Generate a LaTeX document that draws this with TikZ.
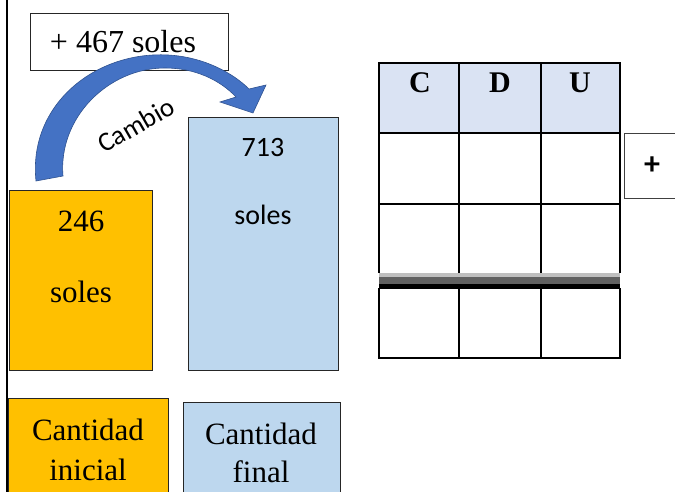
\documentclass[tikz,border=0pt]{standalone}
\usepackage{fontspec}
\setmainfont{Liberation Serif}
\newfontfamily\calibri{Carlito}
\usetikzlibrary{arrows.meta, positioning}
\definecolor{naranja}{HTML}{FFC000}
\definecolor{celeste}{HTML}{BDD7EE}
\definecolor{cabecera}{HTML}{DAE3F3}
\definecolor{flecha}{HTML}{4472C4}
\definecolor{flechaborde}{HTML}{2F528F}
\newcommand{\tam}[1]{\fontsize{#1}{#1}\selectfont}

\begin{document}
\begin{tikzpicture}[x=1pt,y=-1pt,
    caja/.style={draw=black!85,line width=0.8pt,anchor=north west,inner sep=0pt},
    serif/.style={font=\tam{31}},
    cal/.style={font=\calibri\tam{28}},
    linea/.style={line width=2pt}]

    \useasboundingbox (0,0) rectangle (675,492);
    \draw[line width=2.5pt] (7,0) -- (7,492);

    % cajas de la izquierda
    \node[caja, minimum width=198pt, minimum height=57pt] (cambio) at (30,13) {};
    \node[font=\tam{32}] (cambiotxt) at (123,42) {+ 467 soles};

    \node[caja, fill=naranja, minimum width=143pt, minimum height=180pt] (ini) at (9,190) {};
    \node[serif] (ininum) at (81,221) {246};
    \node[serif] (iniu)   at (81,292) {soles};

    \node[caja, fill=celeste, minimum width=150pt, minimum height=253pt] (fin) at (188,117) {};
    \node[cal] (finnum) at (263,148) {713};
    \node[cal] (finu)   at (263,215) {soles};

    \node[caja, fill=naranja, minimum width=160pt, minimum height=100pt] (etqini) at (8,398) {};
    \node[serif] (etqini1) at (88,430) {Cantidad};
    \node[serif] (etqini2) at (88,470) {inicial};

    \node[caja, fill=celeste, minimum width=157pt, minimum height=100pt] (etqfin) at (183,402) {};
    \node[serif] (etqfin1) at (261,434) {Cantidad};
    \node[serif] (etqfin2) at (261,472) {final};

    % flecha curva
    \filldraw[fill=flecha, draw=flechaborde, line width=0.6pt]
        (36,181) .. controls (28,105) and (95,51) .. (168,55)
        .. controls (205,57) and (234,74) .. (249,89)
        -- (266,85) -- (253,113) -- (220,102) -- (236,97)
        .. controls (220,80) and (195,68) .. (165,68)
        .. controls (108,68) and (58,118) .. (63,176) -- cycle;
    \node[font=\calibri\tam{27}, rotate=30] (cambiolbl) at (136,125) {Cambio};

    % tabla C D U
    \fill[cabecera] (379,63) rectangle (620,133);
    \foreach \x in {379,459,541,620}
    {
        \draw[linea] (\x,63) -- (\x,273);
        \draw[linea] (\x,288) -- (\x,358);
    }
    \foreach \y in {63,133,204,358}
        \draw[linea] (378,\y) -- (621,\y);
    \fill[black!25] (379,273) rectangle (620,277);
    \fill[black!62] (379,277) rectangle (620,284);
    \fill[black] (379,284) rectangle (620,289);
    \foreach \x/\l in {420/C,500/D,580/U}
        \node[font=\bfseries\tam{30}] (cab\l) at (\x,83) {\l};

    \node[draw=black!75, line width=0.8pt, anchor=north west, minimum width=60pt,
          minimum height=65pt] (signo) at (624,133) {};
    \node[font=\calibri\bfseries\tam{32}] (signotxt) at (652,166) {+};
\end{tikzpicture}
\end{document}
